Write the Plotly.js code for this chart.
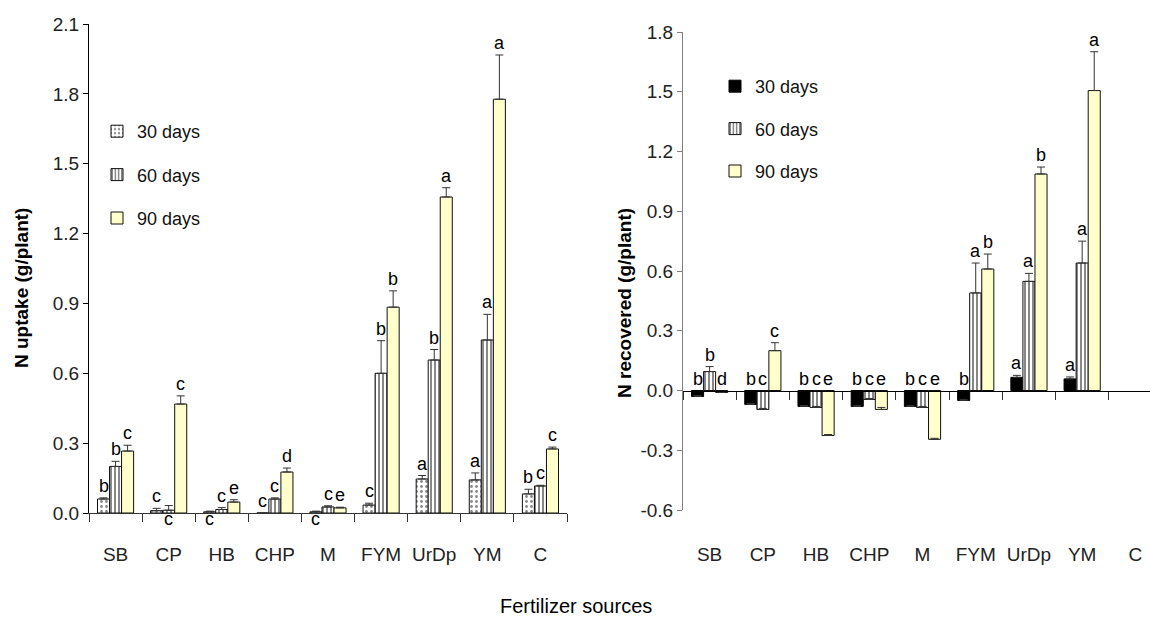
<!DOCTYPE html>
<html><head><meta charset="utf-8">
<script src="https://cdn.plot.ly/plotly-3.0.1.min.js"></script>
<style>html,body{margin:0;padding:0;overflow:hidden;background:#fff}#chart{width:1165px;height:622px}</style>
</head><body><div id="chart"></div>
<script>
const categories = ['SB','CP','HB','CHP','M','FYM','UrDp','YM','C'];
const seriesNames = ['30 days','60 days','90 days'];

// Left panel: N uptake (g/plant)
const uptake30 = [0.06, 0.01, 0.005, 0, 0.005, 0.034, 0.146, 0.142, 0.082];
const uptake30Err = [0.005, 0.01, 0.003, 0, 0.003, 0.008, 0.015, 0.03, 0.02];
const uptake60 = [0.20, 0.012, 0.015, 0.06, 0.026, 0.60, 0.657, 0.743, 0.116];
const uptake60Err = [0.022, 0.02, 0.008, 0.005, 0.005, 0.14, 0.045, 0.11, 0.003];
const uptake90 = [0.266, 0.468, 0.047, 0.176, 0.022, 0.884, 1.357, 1.777, 0.275];
const uptake90Err = [0.025, 0.035, 0.01, 0.017, 0.003, 0.07, 0.04, 0.19, 0.008];
const uptakeLetters30 = ['b','c','c','c','c','c','a','a','b'];
const uptakeLetters60 = ['b','c','c','c','c','b','b','a','c'];
const uptakeLetters90 = ['c','c','e','d','e','b','a','a','c'];
// letters printed under the axis line in the original
const uptakeBelow30 = [false,false,true,false,true,false,false,false,false];
const uptakeBelow60 = [false,true,false,false,false,false,false,false,false];
const uptakeBelow90 = [false,false,false,false,false,false,false,false,false];

// Right panel: N recovered (g/plant)
const recov30 = [-0.03, -0.07, -0.08, -0.08, -0.08, -0.05, 0.066, 0.058, null];
const recov30Err = [0.005, 0.005, 0.005, 0.005, 0.005, 0.005, 0.01, 0.01, 0];
const recov60 = [0.095, -0.095, -0.085, -0.045, -0.085, 0.49, 0.548, 0.64, null];
const recov60Err = [0.025, 0.005, 0.005, 0.005, 0.005, 0.15, 0.04, 0.11, 0];
const recov90 = [-0.01, 0.20, -0.226, -0.095, -0.245, 0.61, 1.087, 1.506, null];
const recov90Err = [0.005, 0.04, 0.005, 0.01, 0.005, 0.075, 0.035, 0.195, 0];
const recovLetters30 = ['b','b','b','b','b','b','a','a',''];
const recovLetters60 = ['b','c','c','c','c','a','a','a',''];
const recovLetters90 = ['d','c','e','e','e','b','b','a',''];

const yTicksLeft = [0, 0.3, 0.6, 0.9, 1.2, 1.5, 1.8, 2.1];
const yTicksRight = [-0.6, -0.3, 0, 0.3, 0.6, 0.9, 1.2, 1.5, 1.8];

// ---------- styling / layout ----------
const W = 1165, H = 622;
const sans = 'Liberation Sans, Arial, sans-serif';
const bargap = 0.32;
const barW = (1 - bargap) / 3;
const yellow = '#FFFFCC';

const leftX = [89 / W, 567 / W];
const rightX = [683 / W, 1162 / W];
const leftY = [(H - 513) / H, (H - 24) / H];
const rightY = [(H - 510) / H, (H - 32) / H];
const rRange = [-0.6, 1.8];
const zeroPos = rightY[0] + (0 - rRange[0]) / (rRange[1] - rRange[0]) * (rightY[1] - rightY[0]);

const styles30L = {color: '#ffffff', line: {color: '#111', width: 1}, pattern: {shape: '.', fgcolor: '#888', bgcolor: '#ffffff', size: 5, solidity: 0.25}};
const styles60 = {color: '#ffffff', line: {color: '#111', width: 1}, pattern: {shape: '|', fgcolor: '#111', bgcolor: '#ffffff', size: 4, solidity: 0.25}};
const styles90 = {color: yellow, line: {color: '#111', width: 1}};
const styles30R = {color: '#000000', line: {color: '#000', width: 1}};

function err(arr) {
  return {type: 'data', symmetric: false, array: arr, arrayminus: arr.map(() => 0),
          color: '#333', thickness: 1, width: 4, visible: true};
}
function bar(name, y, e, marker, xa, ya, legend, group) {
  return {type: 'bar', name: name, x: categories, y: y, error_y: err(e), marker: marker,
          xaxis: xa, yaxis: ya, legend: legend, legendgroup: group, hoverinfo: 'y'};
}

const data = [
  bar(seriesNames[0], uptake30, uptake30Err, styles30L, 'x', 'y', 'legend', 'L30'),
  bar(seriesNames[1], uptake60, uptake60Err, styles60, 'x', 'y', 'legend', 'L60'),
  bar(seriesNames[2], uptake90, uptake90Err, styles90, 'x', 'y', 'legend', 'L90'),
  bar(seriesNames[0], recov30, recov30Err, styles30R, 'x2', 'y2', 'legend2', 'R30'),
  bar(seriesNames[1], recov60, recov60Err, styles60, 'x2', 'y2', 'legend2', 'R60'),
  bar(seriesNames[2], recov90, recov90Err, styles90, 'x2', 'y2', 'legend2', 'R90'),
  {type: 'scatter', x: [], y: [], xaxis: 'x3', yaxis: 'y2', showlegend: false, hoverinfo: 'skip'}
];

const annotations = [];
function addLetters(letters, vals, errs, below, k, xref, yref) {
  letters.forEach((t, i) => {
    if (!t) return;
    const v = vals[i] == null ? 0 : vals[i];
    const top = Math.max(v + (v > 0 ? errs[i] : 0), 0);
    const isBelow = below && below[i];
    annotations.push({text: t, xref: xref, yref: yref, x: i + (k - 1) * barW,
      y: isBelow ? 0 : top, yanchor: isBelow ? 'top' : 'bottom', xanchor: 'center',
      yshift: isBelow ? 6 : 0, showarrow: false, font: {family: sans, size: 18, color: '#000'}});
  });
}
addLetters(uptakeLetters30, uptake30, uptake30Err, uptakeBelow30, 0, 'x', 'y');
addLetters(uptakeLetters60, uptake60, uptake60Err, uptakeBelow60, 1, 'x', 'y');
addLetters(uptakeLetters90, uptake90, uptake90Err, uptakeBelow90, 2, 'x', 'y');
addLetters(recovLetters30, recov30, recov30Err, null, 0, 'x2', 'y2');
addLetters(recovLetters60, recov60, recov60Err, null, 1, 'x2', 'y2');
addLetters(recovLetters90, recov90, recov90Err, null, 2, 'x2', 'y2');

annotations.push({text: '<b>N uptake (g/plant)</b>', xref: 'paper', yref: 'paper', x: 21 / W, y: (H - 288) / H,
  textangle: -90, showarrow: false, xanchor: 'center', yanchor: 'middle', font: {family: sans, size: 19, color: '#000'}});
annotations.push({text: '<b>N recovered (g/plant)</b>', xref: 'paper', yref: 'paper', x: 624 / W, y: (H - 303) / H,
  textangle: -90, showarrow: false, xanchor: 'center', yanchor: 'middle', font: {family: sans, size: 19, color: '#000'}});
annotations.push({text: 'Fertilizer sources', xref: 'paper', yref: 'paper', x: 576 / W, y: (H - 606) / H,
  showarrow: false, xanchor: 'center', yanchor: 'middle', font: {family: sans, size: 20, color: '#000'}});

const tickFont = {family: sans, size: 19, color: '#222'};
const fmt = v => v.toFixed(1);
const boundaries = categories.map((c, i) => i - 0.5).concat([categories.length - 0.5]);

const layout = {
  width: W, height: H, margin: {l: 0, r: 0, t: 0, b: 0},
  paper_bgcolor: '#fff', plot_bgcolor: 'rgba(0,0,0,0)',
  barmode: 'group', bargap: bargap, bargroupgap: 0,
  showlegend: true,
  xaxis: {type: 'category', categoryorder: 'array', categoryarray: categories, domain: leftX, anchor: 'y',
    range: [-0.5, categories.length - 0.5], showline: true, linecolor: '#333', linewidth: 1,
    ticks: 'outside', ticklen: 8, tickcolor: '#333', tickson: 'boundaries', ticklabelstandoff: 24, tickangle: 0,
    tickfont: tickFont, showgrid: false, zeroline: false},
  yaxis: {domain: leftY, anchor: 'x', range: [0, 2.1], tickmode: 'array', tickvals: yTicksLeft,
    ticktext: yTicksLeft.map(fmt), showline: true, linecolor: '#000', linewidth: 1, ticks: 'outside',
    ticklen: 5, tickcolor: '#000', tickfont: tickFont, showgrid: false, zeroline: false},
  xaxis2: {type: 'category', categoryorder: 'array', categoryarray: categories, domain: rightX, anchor: 'y2',
    range: [-0.5, categories.length - 0.5], showline: false, ticks: '', ticklabelstandoff: 31, tickangle: 0,
    tickfont: tickFont, showgrid: false, zeroline: false},
  yaxis2: {domain: rightY, anchor: 'x2', range: rRange, tickmode: 'array', tickvals: yTicksRight,
    ticktext: yTicksRight.map(fmt), showline: true, linecolor: '#808080', linewidth: 1, ticks: 'outside',
    ticklen: 5, tickcolor: '#808080', tickfont: tickFont, showgrid: false, zeroline: false},
  xaxis3: {type: 'linear', domain: rightX, anchor: 'free', position: zeroPos, overlaying: 'x2',
    range: [-0.5, categories.length - 0.5], tickmode: 'array', tickvals: boundaries, showticklabels: false,
    showline: true, linecolor: '#000', linewidth: 1, ticks: 'outside', ticklen: 8, tickcolor: '#333',
    showgrid: false, zeroline: false, fixedrange: true},
  legend: {x: 97 / W, y: (H - 113) / H, xanchor: 'left', yanchor: 'top', bgcolor: 'rgba(0,0,0,0)',
    font: {family: sans, size: 18, color: '#111'}, traceorder: 'grouped', tracegroupgap: 17, borderwidth: 0},
  legend2: {x: 715 / W, y: (H - 68) / H, xanchor: 'left', yanchor: 'top', bgcolor: 'rgba(0,0,0,0)',
    font: {family: sans, size: 18, color: '#111'}, traceorder: 'grouped', tracegroupgap: 16, borderwidth: 0},
  annotations: annotations
};

Plotly.newPlot('chart', data, layout, {displayModeBar: false, staticPlot: true});
</script>
</body></html>
